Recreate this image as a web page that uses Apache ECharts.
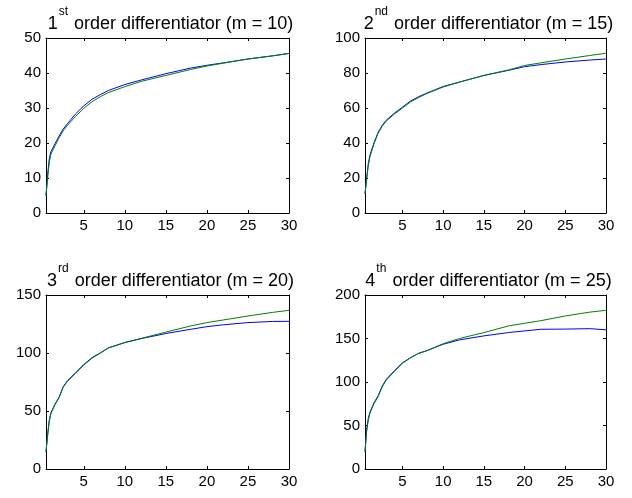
<!DOCTYPE html>
<html>
<head>
<meta charset="utf-8">
<script src="https://cdn.jsdelivr.net/npm/echarts@6/dist/echarts.min.js"></script>
<style>html,body{margin:0;padding:0;background:#fff;}#c{width:632px;height:498px;}</style>
</head>
<body>
<div id="c"></div>
<script>
const xVals = [0.4, 0.6, 0.8, 1, 1.5, 2, 2.5, 3, 4, 5, 6, 7, 8, 10, 12, 15, 18, 20, 22, 25, 28, 30];
const xTicks = [5, 10, 15, 20, 25, 30];

const titles = ['1', '2', '3', '4'];
const suffixes = ['st', 'nd', 'rd', 'th'];
const mValues = [10, 15, 20, 25];

const yMax = [50, 100, 150, 200];
const yStep = [10, 20, 50, 50];

const blue1 = [5, 11, 15.5, 17.5, 19.8, 22, 24, 25.5, 28.3, 30.6, 32.5, 33.8, 35, 36.7, 38, 39.8, 41.4, 42.2, 42.9, 44, 44.9, 45.6];
const green1 = [5, 10, 14.5, 16.8, 19.2, 21.5, 23.5, 25, 27.6, 29.9, 31.8, 33.2, 34.4, 36.1, 37.6, 39.3, 41, 42, 42.8, 44, 44.9, 45.6];

const blue2 = [11, 20, 28, 33, 40, 46, 50, 53, 57, 60.5, 64, 66.5, 68.5, 72.3, 74.8, 78.6, 81.5, 83.6, 84.8, 86.3, 87.4, 88];
const green2 = [11, 19, 27, 32, 39.5, 45.5, 49.5, 52.5, 56.5, 60, 63.5, 66, 68.3, 72, 74.8, 78.6, 81.7, 84.3, 85.8, 88, 90, 91.3];

const blue3 = [15, 30, 42, 48.5, 56, 62, 71, 76, 83, 90, 96, 100, 104.5, 109, 112.4, 116.8, 120.4, 122.7, 124.3, 126.2, 127.2, 127.3];
const green3 = [15, 29, 41, 48, 55.5, 61.5, 70.5, 75.5, 82.5, 89.5, 95.5, 99.8, 104.3, 109, 112.6, 118, 123.3, 126.2, 128.5, 131.9, 135, 136.8];

const blue4 = [20, 45, 58, 65, 76, 84, 95, 103, 112.8, 122, 128, 133, 136, 143.4, 148.4, 153, 156.8, 158.7, 160.6, 160.8, 161.3, 160];
const green4 = [20, 43, 56, 64, 75, 83, 94, 102, 112, 121.5, 127.8, 133, 136, 144, 150, 156.8, 164.4, 167.5, 170.5, 175.9, 180.3, 182.4];

const blues = [blue1, blue2, blue3, blue4];
const greens = [green1, green2, green3, green4];

const grids = [
  {left: 46, top: 38, width: 243, height: 175},
  {left: 365, top: 38, width: 241, height: 175},
  {left: 46, top: 295, width: 243, height: 174},
  {left: 365, top: 295, width: 241, height: 174}
];

const font = 'Liberation Sans, Arial, Helvetica, sans-serif';
const XMIN = 0.4, XMAX = 30;

const option = {
  animation: false,
  backgroundColor: '#fff',
  title: [],
  grid: [],
  xAxis: [],
  yAxis: [],
  series: []
};

for (let i = 0; i < 4; i++) {
  const g = grids[i];
  option.grid.push({left: g.left, top: g.top, width: g.width, height: g.height, show: false, containLabel: false});
  option.title.push({
    text: '{n|' + titles[i] + '}{s|' + suffixes[i] + '}{n| order differentiator (m = ' + mValues[i] + ')}',
    left: g.left + g.width / 2 - 2,
    textAlign: 'center',
    top: g.top - 38,
    textStyle: {
      fontWeight: 'normal',
      rich: {
        n: {fontSize: 18, fontFamily: font, fontWeight: 'normal', color: '#000', lineHeight: 28, verticalAlign: 'bottom'},
        s: {fontSize: 12, fontFamily: font, fontWeight: 'normal', color: '#000', lineHeight: 28, verticalAlign: 'top', padding: [1, 1, 0, 1]}
      }
    }
  });
  const lineStyle = {color: '#000', width: 1};
  option.xAxis.push({
    type: 'value', gridIndex: i, min: XMIN, max: XMAX, position: 'bottom',
    axisLine: {show: true, onZero: false, lineStyle},
    axisTick: {show: true, inside: true, length: 3, customValues: xTicks, lineStyle},
    axisLabel: {show: true, customValues: xTicks, fontSize: 15, fontFamily: font, color: '#000', margin: 5},
    splitLine: {show: false}
  });
  option.xAxis.push({
    type: 'value', gridIndex: i, min: XMIN, max: XMAX, position: 'top',
    axisLine: {show: true, onZero: false, lineStyle},
    axisTick: {show: true, inside: true, length: 3, customValues: xTicks, lineStyle},
    axisLabel: {show: false},
    splitLine: {show: false}
  });
  option.yAxis.push({
    type: 'value', gridIndex: i, min: 0, max: yMax[i], interval: yStep[i], position: 'left',
    axisLine: {show: true, onZero: false, lineStyle},
    axisTick: {show: true, inside: true, length: 3, lineStyle},
    axisLabel: {show: true, fontSize: 15, fontFamily: font, color: '#000', margin: 5},
    splitLine: {show: false}
  });
  option.yAxis.push({
    type: 'value', gridIndex: i, min: 0, max: yMax[i], interval: yStep[i], position: 'right',
    axisLine: {show: true, onZero: false, lineStyle},
    axisTick: {show: true, inside: true, length: 3, lineStyle},
    axisLabel: {show: false},
    splitLine: {show: false}
  });
  option.series.push({
    type: 'line', xAxisIndex: 2 * i, yAxisIndex: 2 * i, showSymbol: false, symbol: 'none',
    data: xVals.map((x, k) => [x, blues[i][k]]),
    lineStyle: {color: '#0000ff', width: 1}, itemStyle: {color: '#0000ff'}, z: 2
  });
  option.series.push({
    type: 'line', xAxisIndex: 2 * i, yAxisIndex: 2 * i, showSymbol: false, symbol: 'none',
    data: xVals.map((x, k) => [x, greens[i][k]]),
    lineStyle: {color: '#008000', width: 1}, itemStyle: {color: '#008000'}, z: 3
  });
}

const chart = echarts.init(document.getElementById('c'), null, {renderer: 'canvas'});
chart.setOption(option);
</script>
</body>
</html>
